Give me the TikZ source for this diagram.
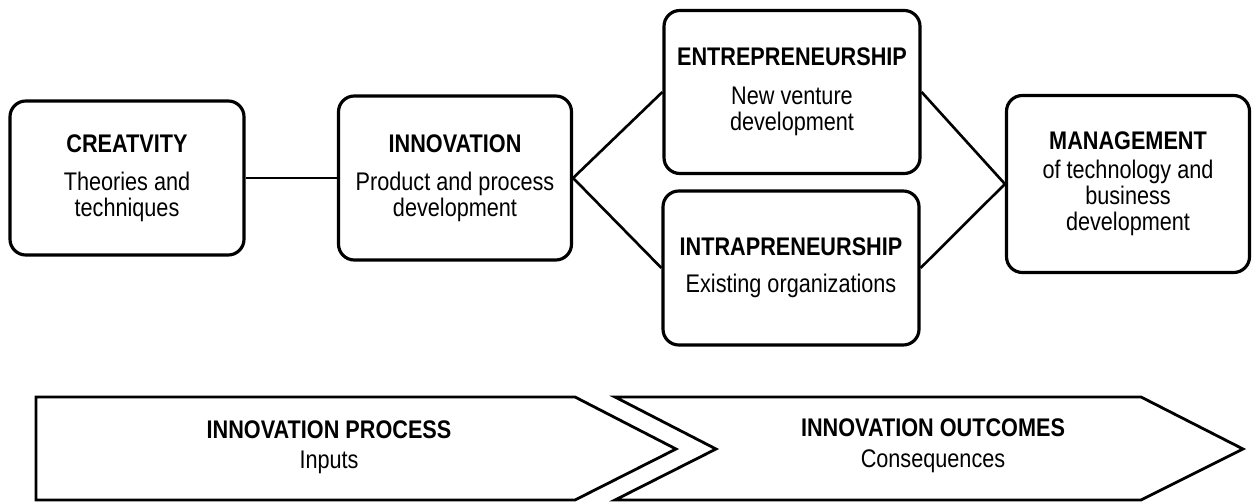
\documentclass[tikz,border=0pt]{standalone}
\usepackage{fontspec}
\setmainfont{Liberation Sans}[FakeStretch=0.85]
\begin{document}
\begin{tikzpicture}[x=0.2mm, y=-0.2mm,
    every node/.style={font=\fontsize{14.5}{14.8}\selectfont},
    block/.style={draw, line width=1.8pt, rounded corners=9pt, align=center, inner sep=0pt},
    link/.style={line width=1.5pt},
    chevron/.style={line width=1.6pt, line join=miter}]
    \useasboundingbox (0,0) rectangle (1252,502);

    % Creativity - Innovation - Entrepreneurship/Intrapreneurship - Management
    \node[block, minimum width=46.8mm, minimum height=30.8mm] (crea) at (127,178) {\textbf{CREATVITY}\\[6.8pt]Theories and\\techniques};
    \node[block, minimum width=46.6mm, minimum height=32.8mm] (inno) at (455,178) {\textbf{INNOVATION}\\[6.8pt]Product and process\\development};
    \node[block, minimum width=51.2mm, minimum height=32.6mm] (entr) at (792,92) {\textbf{ENTREPRENEURSHIP}\\[7.3pt]New venture\\development};
    \node[block, minimum width=51.2mm, minimum height=30.8mm] (intr) at (791,268) {\textbf{INTRAPRENEURSHIP}\\[6.2pt]Existing organizations};
    \node[block, minimum width=48.6mm, minimum height=35.4mm] (mgmt) at (1128,184) {\textbf{MANAGEMENT}\\[1.7pt]of technology and\\business\\development};

    \draw[link] (crea) -- (inno);
    \draw[link] (inno.east) -- (entr.west);
    \draw[link] (inno.east) -- (intr.west);
    \draw[link] (entr.east) -- (mgmt.west);
    \draw[link] (intr.east) -- (mgmt.west);

    % Process arrows
    \draw[chevron] (36,397) -- (575,397) -- (676,449) -- (575,500) -- (36,500) -- cycle;
    \draw[chevron] (615,397) -- (1141,397) -- (1243,449) -- (1141,500) -- (615,500) -- (716,449) -- cycle;
    \node[align=center] (proc) at (329,447) {\textbf{INNOVATION PROCESS}\\[2.3pt]Inputs};
    \node[align=center] (outc) at (933,446) {\textbf{INNOVATION OUTCOMES}\\[2.8pt]Consequences};
\end{tikzpicture}
\end{document}
